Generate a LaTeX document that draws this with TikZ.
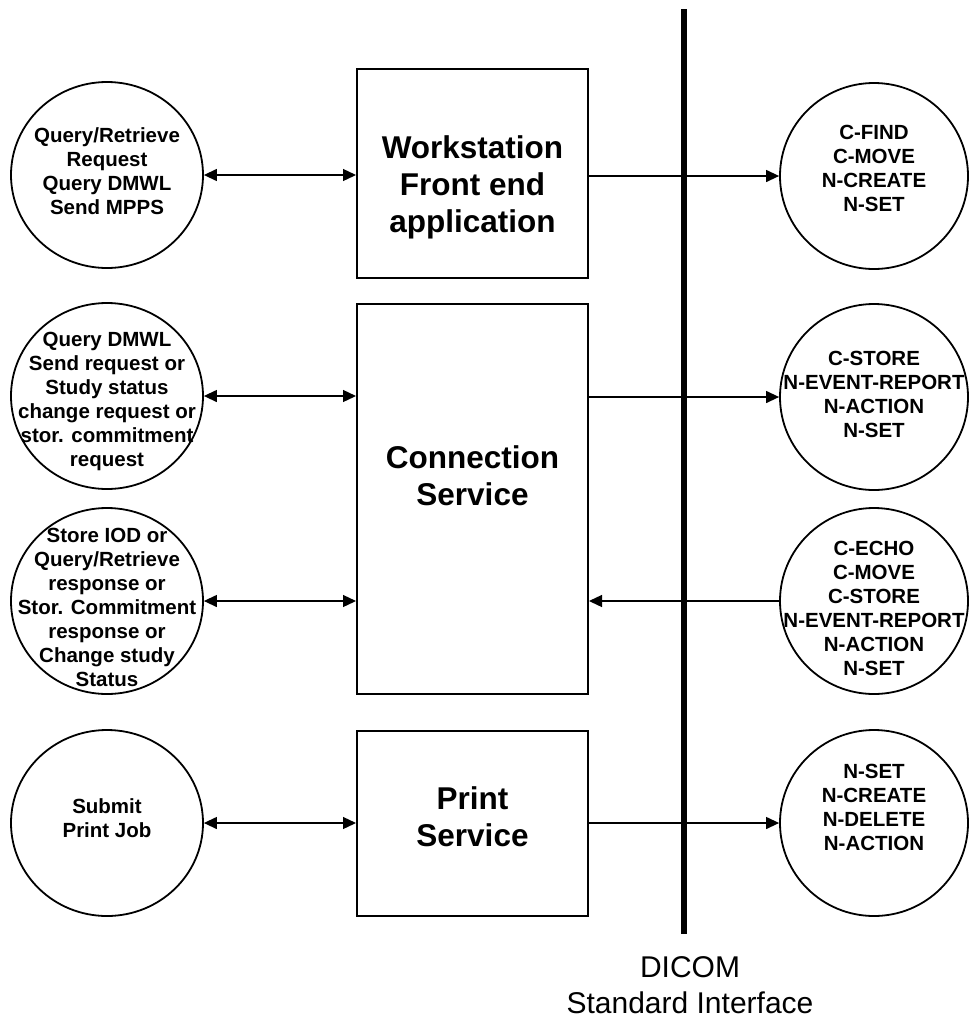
\documentclass[tikz,border=0pt]{standalone}
\usepackage{fontspec}
\setmainfont{Liberation Sans}
\usetikzlibrary{shapes.geometric,arrows.meta}
\tikzset{
  lcirc/.style={ellipse,draw,line width=1.8pt,minimum width=192pt,minimum height=186pt,inner sep=0pt},
  rcirc/.style={ellipse,draw,line width=1.8pt,minimum width=188pt,minimum height=186pt,inner sep=0pt},
  sbox/.style={rectangle,draw,line width=2pt,inner sep=0pt},
  ctxt/.style={align=center,inner sep=0pt,font=\fontsize{20.5}{24}\selectfont\bfseries},
  btxt/.style={align=center,inner sep=0pt,font=\fontsize{31.5}{37}\selectfont\bfseries},
  conn/.style={line width=1.3pt},
  tip/.style={-{Triangle[length=13pt,width=12pt]}},
  dtip/.style={{Triangle[length=13pt,width=12pt]}-{Triangle[length=13pt,width=12pt]}},
}
\begin{document}
\begin{tikzpicture}[x=1pt,y=-1pt]
\useasboundingbox (0,0) rectangle (969,1021);
% left circles
\node[lcirc] (l1) at (107,175) {};
\node[lcirc] (l2) at (107,396) {};
\node[lcirc] (l3) at (107,601) {};
\node[lcirc] (l4) at (107,823) {};
% right circles
\node[rcirc] (r1) at (874,176) {};
\node[rcirc] (r2) at (874,397) {};
\node[rcirc] (r3) at (874,601) {};
\node[rcirc] (r4) at (874,823) {};
% boxes
\node[sbox,minimum width=231pt,minimum height=209pt] (ws) at (472.5,173.5) {};
\node[sbox,minimum width=231pt,minimum height=390pt] (cs) at (472.5,499) {};
\node[sbox,minimum width=231pt,minimum height=185pt] (ps) at (472.5,823.5) {};
% texts in circles
\node[ctxt] (tl1) at (107,171) {Query/Retrieve\\Request\\Query DMWL\\Send MPPS};
\node[ctxt] (tl2) at (107,401) {Query DMWL\\Send request or\\Study status\\change request or\\stor. commitment\\request};
\node[ctxt] (tl3) at (107,607) {Store IOD or\\Query/Retrieve\\response or\\Stor. Commitment\\response or\\Change study\\Status};
\node[ctxt] (tl4) at (107,818) {Submit\\Print Job};
\node[ctxt] (tr1) at (874,168) {C-FIND\\C-MOVE\\N-CREATE\\N-SET};
\node[ctxt] (tr2) at (874,394) {C-STORE\\N-EVENT-REPORT\\N-ACTION\\N-SET};
\node[ctxt] (tr3) at (874,608) {C-ECHO\\C-MOVE\\C-STORE\\N-EVENT-REPORT\\N-ACTION\\N-SET};
\node[ctxt] (tr4) at (874,807) {N-SET\\N-CREATE\\N-DELETE\\N-ACTION};
% texts in boxes
\node[btxt] (tws) at (472.5,187) {Workstation\\Front end\\application};
\node[btxt] (tcs) at (472.5,476) {Connection\\Service};
\node[btxt] (tps) at (472.5,817) {Print\\Service};
% DICOM interface line
\coordinate (itop) at (684,9);
\coordinate (ibot) at (684,934);
\draw[line width=6pt] (itop) -- (ibot);
\node[align=center,inner sep=0pt,font=\fontsize{30}{36}\selectfont] (dicom) at (690,985) {DICOM\\Standard Interface};
% connectors
\draw[conn,dtip] (l1.east) -- (l1.east -| ws.west);
\draw[conn,dtip] (l2.east) -- (l2.east -| cs.west);
\draw[conn,dtip] (l3.east) -- (l3.east -| cs.west);
\draw[conn,dtip] (l4.east) -- (l4.east -| ps.west);
\draw[conn,tip] (ws.east |- r1.west) -- (r1.west);
\draw[conn,tip] (cs.east |- r2.west) -- (r2.west);
\draw[conn,tip] (r3.west) -- (r3.west -| cs.east);
\draw[conn,tip] (ps.east |- r4.west) -- (r4.west);
\end{tikzpicture}
\end{document}
